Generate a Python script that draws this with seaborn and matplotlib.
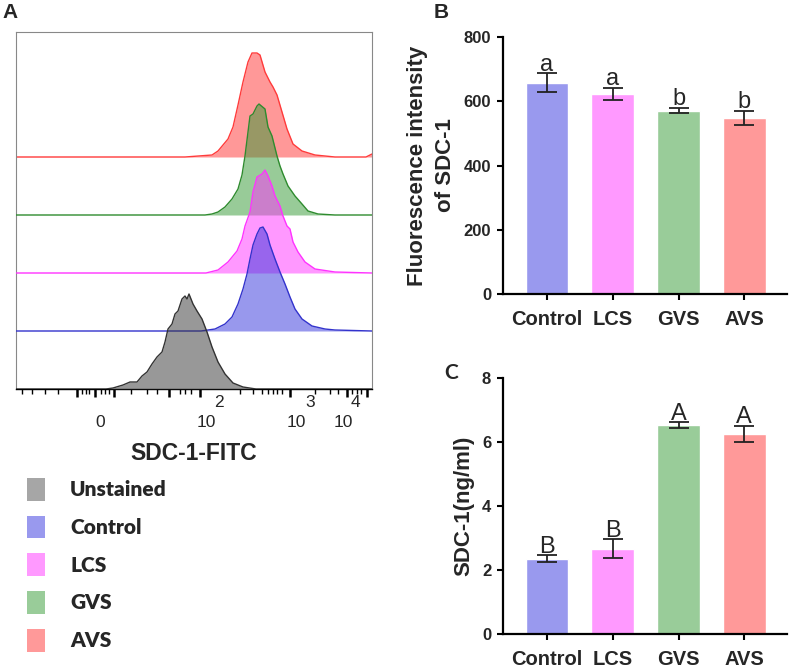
import numpy as np
import pandas as pd
import seaborn as sns
import matplotlib.pyplot as plt
from matplotlib.patches import Patch

# ---- panel A: flow histograms (channel units, counts) ----
avs_x = [0, 169, 196, 202, 212, 217, 222, 227, 232, 236, 241, 244, 249, 254, 257, 261, 266, 271, 277, 286, 299, 319, 350, 356]
avs_h = [0, 0, 2, 6, 18, 30, 52, 75, 95, 104, 104, 102, 85, 75, 70, 62, 45, 28, 13, 6, 2, 0, 0, 3]
gvs_x = [0, 189, 196, 202, 209, 216, 222, 226, 229, 234, 237, 241, 243, 249, 252, 256, 261, 264, 267, 272, 279, 286, 292, 302, 319, 356]
gvs_h = [0, 0, 1, 3, 8, 16, 26, 40, 59, 99, 101, 109, 111, 106, 88, 79, 59, 49, 41, 29, 19, 11, 4, 1, 0, 0]
lcs_x = [0, 190, 202, 212, 221, 226, 229, 234, 237, 241, 246, 249, 252, 256, 259, 264, 267, 271, 274, 277, 282, 289, 299, 319, 356]
lcs_h = [0, 0, 3, 11, 22, 34, 47, 61, 81, 96, 99, 103, 97, 87, 77, 67, 57, 47, 44, 31, 21, 11, 4, 1, 0]
ctl_x = [0, 185, 199, 209, 216, 222, 227, 231, 234, 237, 241, 244, 247, 251, 254, 259, 264, 269, 274, 279, 286, 296, 309, 319, 356]
ctl_h = [0, 0, 2, 7, 14, 27, 42, 57, 72, 86, 97, 103, 104, 97, 86, 72, 59, 47, 34, 22, 12, 5, 2, 1, 0]
uns_x = [0, 90, 97, 107, 114, 121, 126, 131, 136, 141, 146, 149, 152, 156, 159, 162, 166, 169, 171, 173, 177, 181, 186, 191, 196, 202, 209, 217, 227, 240, 356]
uns_h = [0, 0, 1, 4, 7, 7, 13, 17, 25, 32, 37, 47, 60, 65, 75, 78, 90, 93, 90, 95, 85, 78, 70, 57, 42, 27, 15, 6, 2, 0, 0]

major_ticks = [61, 79, 98, 153, 184, 274, 331, 351]
minor_ticks = [6, 16, 29, 42, 66, 70, 73, 85, 89, 93, 115, 131, 141, 164, 169, 175,
               224, 237, 246, 252, 257, 261, 266, 299, 314, 322, 336, 341, 345]
base_labels = ["0", "10", "10", "10"]
base_pos = [84, 190, 280, 327]
exp_labels = ["2", "3", "4"]
exp_pos = [203, 294, 339]

# ---- panels B and C ----
groups = ["Control", "LCS", "GVS", "AVS"]
fluo_mean = [658, 623, 571, 549]
fluo_sd = [29, 19, 8, 22]
fluo_letters = ["a", "a", "b", "b"]
sdc_mean = [2.35, 2.66, 6.52, 6.25]
sdc_sd = [0.11, 0.30, 0.09, 0.25]
sdc_letters = ["B", "B", "A", "A"]

legend_labels = ["Unstained", "Control", "LCS", "GVS", "AVS"]
light = {"Unstained": "#A6A6A6", "Control": "#9999EE", "LCS": "#FF99FF", "GVS": "#99CC99", "AVS": "#FF9999"}
deep = {"Unstained": "#333333", "Control": "#3333DD", "LCS": "#FF33FF", "GVS": "#339933", "AVS": "#FF3333"}
edge = {"Unstained": "#333333", "Control": "#3333CC", "LCS": "#FF33FF", "GVS": "#2E8B2E", "AVS": "#FF3B3B"}

sns.set_theme(style="ticks")
plt.rcParams["font.family"] = ["Liberation Sans", "DejaVu Sans"]

fig = plt.figure(figsize=(7.9, 6.71), dpi=100)
W, H = 790, 671
axA = fig.add_axes([16 / W, 1 - 389 / H, 356 / W, 357 / H])
axB = fig.add_axes([503 / W, 1 - 294 / H, 284 / W, 257 / H])
axC = fig.add_axes([503 / W, 1 - 634 / H, 284 / W, 256 / H])

# ridges, top one drawn first so lower ones sit over it
ridges = [("AVS", avs_x, avs_h), ("GVS", gvs_x, gvs_h), ("LCS", lcs_x, lcs_h),
          ("Control", ctl_x, ctl_h), ("Unstained", uns_x, uns_h)]
step = 58
for i, (name, xs, hs) in enumerate(ridges):
    off = step * (len(ridges) - 1 - i)
    xs = np.array(xs)
    hs = np.array(hs)
    axA.fill_between(xs, off, off + hs, color=deep[name], alpha=0.5, lw=0, zorder=2 + i)
    axA.plot(xs, off + hs, color=edge[name], lw=1, zorder=2 + i)

axA.set_xlim(0, 356)
axA.set_ylim(0, 357)
axA.set_yticks([])
axA.set_xticks(major_ticks)
axA.set_xticks(minor_ticks, minor=True)
axA.tick_params(axis="x", which="major", length=6, width=1.8, color="black", labelbottom=False, direction="out")
axA.tick_params(axis="x", which="minor", length=3.5, width=1, color="black", direction="out")
for s in ["top", "right", "left"]:
    axA.spines[s].set_color("#888888")
    axA.spines[s].set_linewidth(0.8)
axA.spines["bottom"].set_color("black")
axA.spines["bottom"].set_linewidth(1)
for lab, x in zip(base_labels, base_pos):
    axA.annotate(lab, (x, 0), xycoords=("data", "axes fraction"), xytext=(0, -24),
                 textcoords="offset points", ha="center", va="center", fontsize=12.5)
for lab, x in zip(exp_labels, exp_pos):
    axA.annotate(lab, (x, 0), xycoords=("data", "axes fraction"), xytext=(0, -10),
                 textcoords="offset points", ha="center", va="center", fontsize=12.5)
axA.text(0.5, -0.18, "SDC-1-FITC", transform=axA.transAxes, ha="center", va="center",
         fontsize=16.5, fontweight="bold")

handles = [Patch(facecolor=light[n], edgecolor="none", label=n) for n in legend_labels]
fig.legend(handles=handles, loc="upper left", bbox_to_anchor=(27 / W, 1 - 478 / H), frameon=False,
           prop={"family": "Lato", "weight": "heavy", "size": 15}, handlelength=0.87, handleheight=1.3,
           handletextpad=1.2, labelspacing=0.72, borderpad=0, borderaxespad=0)


def bar_panel(ax, means, sds, letters, ymax, yticks, ylabel, label_x):
    df = pd.DataFrame({"group": groups, "value": means})
    sns.barplot(data=df, x="group", y="value", hue="group", palette=[light[g] for g in groups],
                legend=False, width=0.65, saturation=1, ax=ax)
    ax.errorbar(range(len(groups)), means, yerr=sds, fmt="none", ecolor="#222222",
                elinewidth=1.3, capsize=7.5, capthick=1.3, zorder=5)
    for i, (m, s, t) in enumerate(zip(means, sds, letters)):
        ax.annotate(t, (i, m + s), xytext=(0, 2), textcoords="offset points",
                    ha="center", va="baseline", fontsize=17)
    ax.set_xlim(-0.67, 3.65)
    ax.set_ylim(0, ymax)
    ax.set_yticks(yticks)
    ax.set_yticklabels([str(v) for v in yticks], fontweight="bold", fontsize=12)
    ax.set_xticks(range(len(groups)))
    ax.set_xticklabels(groups, fontweight="bold", fontsize=14.5)
    ax.set_xlabel("")
    ax.set_ylabel(ylabel, fontsize=16, fontweight="bold", linespacing=1.45)
    ax.yaxis.set_label_coords(label_x, 0.5)
    ax.tick_params(axis="both", length=4.5, width=1.5, color="black", direction="out")
    ax.tick_params(axis="y", pad=4)
    ax.tick_params(axis="x", pad=7)
    sns.despine(ax=ax)
    for s in ["left", "bottom"]:
        ax.spines[s].set_linewidth(1.6)
        ax.spines[s].set_color("black")


bar_panel(axB, fluo_mean, fluo_sd, fluo_letters, 800, [0, 200, 400, 600, 800],
          "Fluorescence intensity\nof SDC-1", -0.165)
bar_panel(axC, sdc_mean, sdc_sd, sdc_letters, 8, [0, 2, 4, 6, 8], "SDC-1(ng/ml)", -0.1)

fig.text(10 / W, 1 - 13 / H, "A", ha="center", va="center", fontsize=15, fontweight="bold")
fig.text(441 / W, 1 - 13 / H, "B", ha="center", va="center", fontsize=15, fontweight="bold")
fig.text(451 / W, 1 - 373 / H, "C", ha="center", va="center", fontsize=15, fontweight="bold", family="Lato")

fig.savefig("out.png", dpi=100)
